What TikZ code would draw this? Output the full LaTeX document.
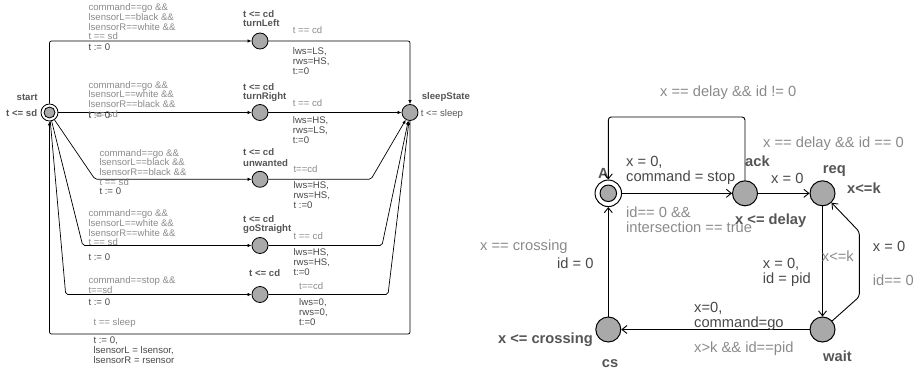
\documentclass[tikz,border=0pt]{standalone}
\usepackage{fontspec}
\setmainfont{Liberation Sans}
\usetikzlibrary{arrows.meta}
\definecolor{guardc}{HTML}{8A8A8A}
\definecolor{assignc}{HTML}{484848}
\definecolor{namec}{HTML}{555555}
\definecolor{locfill}{HTML}{A9A9A9}

\begin{document}
\begin{tikzpicture}[x=1pt,y=-1pt,
  % small automaton (left)
  sloc/.style={circle, draw=black, line width=0.8pt, fill=locfill, minimum size=16pt, inner sep=0pt},
  sinit/.style={circle, draw=black, line width=0.8pt, fill=white, minimum size=17pt, inner sep=0pt},
  sinner/.style={circle, draw=black, line width=0.8pt, fill=locfill, minimum size=11pt, inner sep=0pt},
  sedge/.style={draw=black, line width=0.7pt, rounded corners=2pt, -{Latex[length=4pt,width=3.5pt]}},
  sfont/.style={font=\fontsize{9.6}{9.8}\selectfont},
  sg/.style={sfont, text=guardc, inner sep=0pt, align=left},
  sa/.style={sfont, text=assignc, inner sep=0pt, align=left},
  sn/.style={font=\bfseries\fontsize{9.6}{9.8}\selectfont, text=namec, inner sep=0pt},
  % large automaton (right)
  bloc/.style={circle, draw=black, line width=1pt, fill=locfill, minimum size=25pt, inner sep=0pt},
  binit/.style={circle, draw=black, line width=1pt, fill=white, minimum size=26.5pt, inner sep=0pt},
  binner/.style={circle, draw=black, line width=1pt, fill=locfill, minimum size=16.5pt, inner sep=0pt},
  bedge/.style={draw=black, line width=0.9pt, rounded corners=3pt, -{Straight Barb[length=5pt,width=8pt]}},
  bfont/.style={font=\fontsize{14.7}{15}\selectfont},
  bg/.style={bfont, text=guardc, inner sep=0pt, align=left},
  ba/.style={bfont, text=assignc, inner sep=0pt, align=left},
  bn/.style={font=\bfseries\fontsize{14.7}{15}\selectfont, text=namec, inner sep=0pt}
]
\useasboundingbox (0,0) rectangle (921,369);

% ---------------- left automaton: locations ----------------
\node[sinit] (start) at (49.5,112.5) {};
\node[sinner] (startin) at (start) {};
\node[sloc] (turnLeft)   at (260,41) {};
\node[sloc] (turnRight)  at (260,112.5) {};
\node[sloc] (unwanted)   at (260,179.3) {};
\node[sloc] (goStraight) at (260,245.5) {};
\node[sloc] (stopLoc)    at (260,294.5) {};
\node[sloc] (sleepState) at (410,112.5) {};

% names and invariants
\node[sn, anchor=west] (nstart) at (16.5,97.7) {start};
\node[sn, anchor=west] (istart) at (6,113.3) {t <= sd};
\node[sn, anchor=west] (itl) at (243,14) {t <= cd};
\node[sn, anchor=west] (ntl) at (243,23.3) {turnLeft};
\node[sn, anchor=west] (itr) at (243,87.3) {t <= cd};
\node[sn, anchor=west] (ntr) at (243,96.7) {turnRight};
\node[sn, anchor=west] (iun) at (243,152.3) {t <= cd};
\node[sn, anchor=west] (nun) at (243,163.3) {unwanted};
\node[sn, anchor=west] (igs) at (243,219) {t <= cd};
\node[sn, anchor=west] (ngs) at (243,229.3) {goStraight};
\node[sn, anchor=west] (ist) at (249,273.3) {t <= cd};
\node[sn, anchor=west] (nss) at (421.7,96.7) {sleepState};
\node[sfont, text=namec, inner sep=0pt, anchor=west] (iss) at (420.7,114) {t <= sleep};

% edges
\draw[sedge] (start) |- (turnLeft);
\draw[sedge] (start) -- (turnRight);
\draw[sedge] (start) -- (95,179.3) -- (unwanted);
\draw[sedge] (start) -- (82.7,245.5) -- (goStraight);
\draw[sedge] (start) -- (65.7,294.5) -- (stopLoc);
\draw[sedge] (turnLeft) -| (sleepState);
\draw[sedge] (turnRight) -- (sleepState);
\draw[sedge] (unwanted) -- (371,179.3) -- (sleepState);
\draw[sedge] (goStraight) -- (382,245.5) -- (sleepState);
\draw[sedge] (stopLoc) -- (388,294.5) -- (sleepState);
\draw[sedge] (sleepState) -- (410,334) -| (start);

% edge labels
\node[sg, anchor=north west] (g1) at (88.3,3.3) {command==go \&\&\\lsensorL==black \&\&\\lsensorR==white \&\&\\t == sd};
\node[sa, anchor=west] (a1) at (88.3,46.7) {t := 0};
\node[sg, anchor=north west] (g2) at (88.3,81) {command==go \&\&\\lsensorL==white \&\&\\lsensorR==black \&\&\\t == sd};
\node[sa, anchor=west] (a2) at (88.3,115.5) {t := 0};
\node[sg, anchor=north west] (g3) at (99.3,148.9) {command==go \&\&\\lsensorL==black \&\&\\lsensorR==black \&\&\\t == sd};
\node[sa, anchor=west] (a3) at (99.3,190.7) {t := 0};
\node[sg, anchor=north west] (g4) at (88.3,209.3) {command==go \&\&\\lsensorL==white \&\&\\lsensorR==white \&\&\\t == sd};
\node[sa, anchor=west] (a4) at (88.3,257.3) {t := 0};
\node[sg, anchor=north west] (g5) at (88.3,276.6) {command==stop \&\&\\t==sd};
\node[sa, anchor=west] (a5) at (88.3,301.7) {t := 0};

\node[sg, anchor=west] (g6) at (292.7,30) {t == cd};
\node[sa, anchor=north west] (a6) at (292.7,47.3) {lws=LS,\\rws=HS,\\t:=0};
\node[sg, anchor=west] (g7) at (292.7,103) {t == cd};
\node[sa, anchor=north west] (a7) at (292.7,116.6) {lws=HS,\\rws=LS,\\t:=0};
\node[sg, anchor=west] (g8) at (293.3,169) {t==cd};
\node[sa, anchor=north west] (a8) at (293.3,181.6) {lws=HS,\\rws=HS,\\t :=0};
\node[sg, anchor=west] (g9) at (293.3,236) {t == cd};
\node[sa, anchor=north west] (a9) at (293.3,248.3) {lws=HS,\\rws=HS,\\t:=0};
\node[sg, anchor=west] (g10) at (299,285.7) {t==cd};
\node[sa, anchor=north west] (a10) at (299,298.3) {lws=0,\\rws=0,\\t:=0};
\node[sg, anchor=west] (g11) at (93.3,323.3) {t == sleep};
\node[sa, anchor=north west] (a11) at (93.3,336.6) {t := 0,\\lsensorL = lsensor,\\lsensorR = rsensor};

% ---------------- right automaton: locations ----------------
\node[binit] (A) at (608.3,193.3) {};
\node[binner] (Ain) at (A) {};
\node[bloc] (ack)  at (745,193.3) {};
\node[bloc] (req)  at (822.5,193.3) {};
\node[bloc] (wait) at (822.5,329.5) {};
\node[bloc] (cs)   at (608.3,329.5) {};

\node[bn, anchor=west] (nA) at (598,173.3) {A};
\node[bn, anchor=west] (nack) at (745,161.5) {ack};
\node[bn, anchor=west] (nreq) at (822.7,171) {req};
\node[bn, anchor=west] (ireq) at (847,187.7) {x<=k};
\node[bn, anchor=west] (iack) at (735,220.5) {x <= delay};
\node[bn, anchor=west] (nwait) at (823,356.7) {wait};
\node[bn, anchor=west] (ncs) at (601.7,363.5) {cs};
\node[bn, anchor=east] (ics) at (593,340) {x <= crossing};

% edges
\draw[bedge] (A) -- (ack);
\draw[bedge] (ack) -- (745,117) -| (A);
\draw[bedge] (ack) -- (req);
\draw[bedge] (req) -- (wait);
\draw[bedge] (wait) -- (859.3,296.7) -- (859.3,231.7) -- (req);
\draw[bedge] (wait) -- (cs);
\draw[bedge] (cs) -- (A);

% edge labels
\node[bg, anchor=west] (bg1) at (660,93) {x == delay \&\& id != 0};
\node[bg, anchor=west] (bg2) at (763,144) {x == delay \&\& id == 0};
\node[ba, anchor=north west] (ba1) at (626,156.4) {x = 0,\\command = stop};
\node[bg, anchor=north west] (bg3) at (626,206.4) {id== 0 \&\&\\intersection == true};
\node[ba, anchor=west] (ba2) at (771,178.3) {x = 0};
\node[bg, anchor=west] (bg4) at (821.7,256) {x<=k};
\node[ba, anchor=north west] (ba3) at (762.7,258) {x = 0,\\id = pid};
\node[ba, anchor=west] (ba4) at (872.7,246) {x = 0};
\node[bg, anchor=west] (bg5) at (872.7,280) {id== 0};
\node[ba, anchor=north west] (ba5) at (694,302) {x=0,\\command=go};
\node[bg, anchor=west] (bg6) at (694,348.3) {x>k \&\& id==pid};
\node[bg, anchor=west] (bg7) at (480,246.7) {x == crossing};
\node[ba, anchor=west] (ba6) at (557,263.3) {id = 0};
\end{tikzpicture}
\end{document}
